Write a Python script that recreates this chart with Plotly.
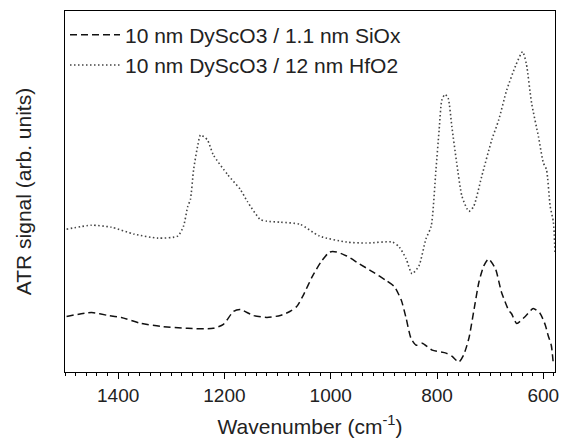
import plotly.graph_objects as go

# Series 1: 10 nm DyScO3 / 1.1 nm SiOx (dashed)
wn_siox = [1497, 1450, 1419, 1394, 1357, 1320, 1269, 1221, 1202, 1183, 1170, 1146, 1120, 1095,
           1077, 1064, 1052, 1034, 1017, 1002, 989, 970, 946, 921, 895, 880, 867, 858, 849,
           839, 828, 809, 783, 772, 759, 750, 740, 731, 721, 712, 703, 690, 679, 665, 660,
           650, 634, 619, 606, 596, 591, 585, 581]
sig_siox = [56, 60, 57, 55, 49, 46, 44, 44, 48, 61, 63, 57, 55, 57,
            61, 66, 77, 97, 112, 121, 121, 117, 109, 101, 92, 86, 72, 54, 34,
            27, 29, 22, 19, 16, 10, 17, 34, 61, 91, 107, 114, 104, 81, 62, 59,
            49, 56, 64, 59, 47, 37, 27, 7]

# Series 2: 10 nm DyScO3 / 12 nm HfO2 (dotted)
wn_hfo2 = [1497, 1450, 1413, 1370, 1325, 1288, 1277, 1269, 1264, 1258, 1250, 1245, 1232, 1221,
           1194, 1170, 1157, 1133, 1120, 1095, 1058, 1021, 970, 933, 884, 871, 858, 847,
           834, 821, 811, 802, 796, 791, 785, 779, 772, 763, 753, 740, 731, 716, 697, 684,
           669, 652, 639, 632, 622, 609, 600, 594, 587, 581, 578]
sig_hfo2 = [144, 148, 146, 139, 135, 137, 147, 167, 174, 204, 229, 239, 234, 219,
            199, 184, 172, 154, 152, 151, 149, 137, 131, 130, 131, 126, 114, 99,
            107, 134, 147, 204, 244, 274, 280, 276, 247, 211, 177, 162, 167, 197, 234, 254,
            284, 309, 323, 311, 271, 237, 211, 204, 167, 151, 120]

names = ["10 nm DyScO3 / 1.1 nm SiOx", "10 nm DyScO3 / 12 nm HfO2"]
x_tickvals = [1400, 1200, 1000, 800, 600]

FONT = "Liberation Sans, Arial, sans-serif"

fig = go.Figure()
fig.add_trace(go.Scatter(x=wn_siox, y=sig_siox, mode="lines", name=names[0],
                         line=dict(color="#111111", width=1.5, dash="7px,4px", shape="spline", smoothing=0.6)))
fig.add_trace(go.Scatter(x=wn_hfo2, y=sig_hfo2, mode="lines", name=names[1],
                         line=dict(color="#444444", width=1.6, dash="1.5px,2.5px", shape="spline", smoothing=0.6)))

fig.update_layout(
    width=569, height=445,
    margin=dict(l=65, r=12, t=10, b=71),
    paper_bgcolor="white", plot_bgcolor="white",
    font=dict(family=FONT, color="#222222"),
    showlegend=True,
    legend=dict(x=0.0, y=0.99, xanchor="left", yanchor="top", bgcolor="rgba(0,0,0,0)",
                font=dict(size=21, family=FONT, color="#222222"), tracegroupgap=0,
                itemwidth=50),
    xaxis=dict(range=[1500, 578], tickvals=x_tickvals, ticks="outside", ticklen=6, tickwidth=1,
               tickcolor="black", showline=True, linecolor="black", linewidth=1.2, mirror=True,
               showgrid=False, zeroline=False,
               tickfont=dict(size=19, family=FONT, color="#222222"),
               minor=dict(dtick=20, ticks="outside", ticklen=3, tickcolor="black", showgrid=False),
               title=dict(text="Wavenumber (cm<sup>-1</sup>)", font=dict(size=21, family=FONT, color="#222222"),
                          standoff=14)),
    yaxis=dict(range=[0, 364], showticklabels=False, ticks="", showline=True, linecolor="black",
               linewidth=1.2, mirror=True, showgrid=False, zeroline=False,
               title=dict(text="ATR signal (arb. units)", font=dict(size=21, family=FONT, color="#222222"),
                          standoff=26)),
)

fig.write_html("out.html", config={"displayModeBar": False},
               post_script="document.body.style.margin='0';document.body.style.padding='0';")
